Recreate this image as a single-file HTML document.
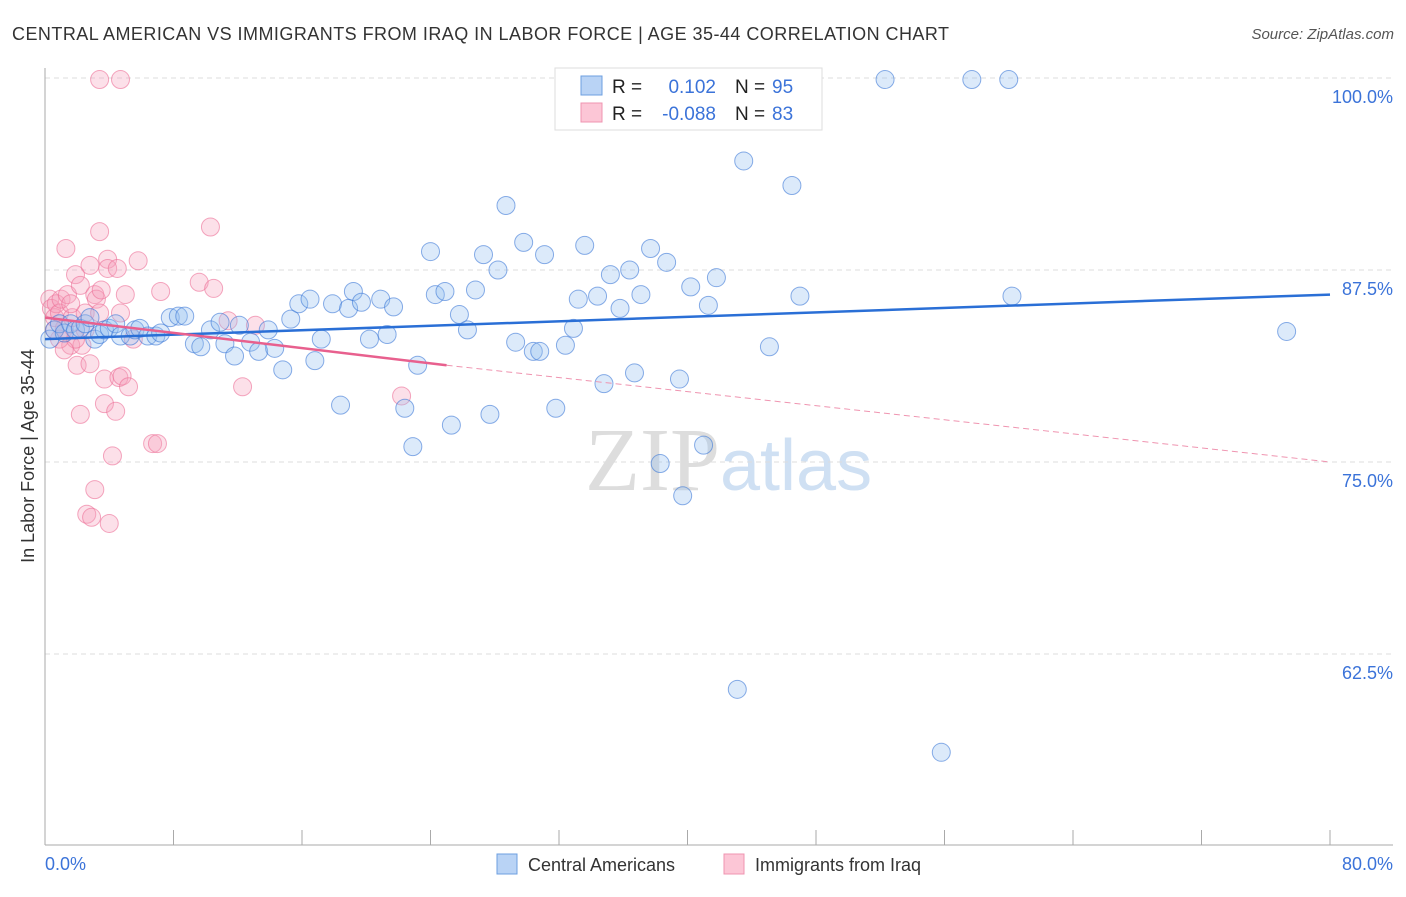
<!DOCTYPE html>
<html><head><meta charset="utf-8"><style>
body{margin:0;background:#fff;font-family:"Liberation Sans",sans-serif}
</style></head><body>
<svg width="1406" height="892" xmlns="http://www.w3.org/2000/svg" font-family="Liberation Sans, sans-serif">
<text x="12" y="40" font-size="18" fill="#333" textLength="937" lengthAdjust="spacing">CENTRAL AMERICAN VS IMMIGRANTS FROM IRAQ IN LABOR FORCE | AGE 35-44 CORRELATION CHART</text>
<text x="1394" y="39" font-size="15" fill="#555" font-style="italic" text-anchor="end">Source: ZipAtlas.com</text>
<text x="720" y="490" font-size="90" fill="#ddd" text-anchor="end" font-family="Liberation Serif, serif">ZIP</text>
<text x="720" y="490" font-size="72" fill="#cfe0f3">atlas</text>
<g id="grid"></g>
<g id="axes"></g>
<g id="pts"></g>
<g id="trend"></g>
<text transform="translate(34,456) rotate(-90)" font-size="18" fill="#333" text-anchor="middle">In Labor Force | Age 35-44</text>
<text x="45" y="870" font-size="18" fill="#3b73d9">0.0%</text>
<text x="1393" y="870" font-size="18" fill="#3b73d9" text-anchor="end">80.0%</text>
<g>
<rect x="555" y="68" width="267" height="62" fill="#fff" stroke="#ddd"/>
<rect x="581" y="76" width="21" height="19" fill="#b9d3f5" stroke="#6d9fe0"/>
<rect x="581" y="103" width="21" height="19" fill="#fcc6d6" stroke="#ef94b0"/>
<text x="612" y="93" font-size="19" fill="#222">R =</text><text x="716" y="93" font-size="19" fill="#3b73d9" text-anchor="end">0.102</text>
<text x="735" y="93" font-size="19" fill="#222">N =</text><text x="772" y="93" font-size="19" fill="#3b73d9">95</text>
<text x="612" y="120" font-size="19" fill="#222">R =</text><text x="716" y="120" font-size="19" fill="#3b73d9" text-anchor="end">-0.088</text>
<text x="735" y="120" font-size="19" fill="#222">N =</text><text x="772" y="120" font-size="19" fill="#3b73d9">83</text>
</g>
<g>
<rect x="497" y="854" width="20" height="20" fill="#b9d3f5" stroke="#6d9fe0"/>
<text x="528" y="871" font-size="18" fill="#333">Central Americans</text>
<rect x="724" y="854" width="20" height="20" fill="#fcc6d6" stroke="#ef94b0"/>
<text x="755" y="871" font-size="18" fill="#333">Immigrants from Iraq</text>
</g>
</svg>
<script>
const yTicks=[100,87.5,75,62.5];
const yTickLabels=["100.0%","87.5%","75.0%","62.5%"];
const blueX=[0.3,0.6,0.9,1.2,1.6,1.9,2.2,2.5,2.8,3.1,3.4,3.7,4.0,4.4,4.7,5.3,5.6,5.9,6.4,6.9,7.2,7.8,8.3,8.7,9.3,9.7,10.3,10.9,11.2,11.8,12.1,12.8,13.3,13.9,14.3,14.8,15.3,15.8,16.5,16.8,17.2,17.9,18.4,18.9,19.2,19.7,20.2,20.9,21.3,21.7,22.4,22.9,23.2,24.0,24.3,24.9,25.3,25.8,26.3,26.8,27.3,27.7,28.2,28.7,29.3,29.8,30.4,30.8,31.1,31.8,32.4,32.9,33.2,33.6,34.4,34.8,35.2,35.8,36.4,36.7,37.1,37.7,38.3,38.7,39.5,39.7,40.2,41.0,41.3,41.8,43.1,43.5,45.1,46.5,47.0,52.3,55.8,57.7,60.0,60.2,77.3];
const blueY=[83.0,83.6,84.0,83.4,84.0,83.6,83.7,84.0,84.4,83.0,83.3,83.6,83.7,84.0,83.2,83.2,83.6,83.7,83.2,83.2,83.4,84.4,84.5,84.5,82.7,82.5,83.6,84.1,82.7,81.9,83.9,82.8,82.2,83.6,82.4,81.0,84.3,85.3,85.6,81.6,83.0,85.3,78.7,85.0,86.1,85.4,83.0,85.6,83.3,85.1,78.5,76.0,81.3,88.7,85.9,86.1,77.4,84.6,83.6,86.2,88.5,78.1,87.5,91.7,82.8,89.3,82.2,82.2,88.5,78.5,82.6,83.7,85.6,89.1,85.8,80.1,87.2,85.0,87.5,80.8,85.9,88.9,74.9,88.0,80.4,72.8,86.4,76.1,85.2,87.0,60.2,94.6,82.5,93.0,85.8,99.9,56.1,99.9,99.9,85.8,83.5];
const pinkX=[0.3,0.4,0.6,0.7,0.9,1.0,1.2,1.4,1.6,1.7,1.9,2.0,2.2,2.3,2.5,2.6,2.8,2.9,3.1,3.2,3.4,3.5,3.7,3.7,3.9,3.9,4.0,4.2,4.4,4.5,4.6,4.7,4.8,5.0,5.2,5.5,5.8,6.7,7.0,7.2,9.6,10.3,10.5,11.4,12.3,13.1,22.2,3.4,4.7,1.3,3.1,2.2,2.8,0.9,0.6,1.6,2.5,1.9,3.4,1.2];
const pinkY=[85.6,85.0,84.4,85.3,84.7,85.6,83.7,85.9,82.6,84.4,87.2,81.3,86.5,82.6,84.7,71.6,87.8,71.4,85.9,85.6,90.0,86.2,80.4,78.8,88.2,87.6,71.0,75.4,78.3,87.6,80.5,84.7,80.6,85.9,79.9,83.0,88.1,76.2,76.2,86.1,86.7,90.3,86.3,84.2,79.9,83.9,79.3,99.9,99.9,88.9,73.2,78.1,81.4,83.0,83.6,85.3,83.6,83.0,84.7,82.3];
const NS="http://www.w3.org/2000/svg";
const X0=45,X1=1330,Y100=78,PXPER=192/12.5;
const sx=v=>X0+(v/80)*(X1-X0);
const sy=v=>Y100+(100-v)*PXPER;
function mk(tag,attrs,parent){const e=document.createElementNS(NS,tag);for(const k in attrs)e.setAttribute(k,attrs[k]);document.getElementById(parent).appendChild(e);return e;}
yTicks.forEach((t,i)=>{
  const l=mk('line',{x1:X0,x2:1393,y1:sy(t),y2:sy(t),stroke:'#ddd','stroke-dasharray':'5,4'},'grid');
  
  
  const tx=mk('text',{x:1393,y:sy(t)+25,'font-size':18,fill:'#3b73d9','text-anchor':'end'},'grid');
  tx.textContent=yTickLabels[i];
  
  
});
let a=mk('line',{x1:X0,x2:X0,y1:68,y2:845,stroke:'#aaa'},'axes');


a=mk('line',{x1:X0,x2:1393,y1:845,y2:845,stroke:'#aaa'},'axes');


for(let i=1;i<=10;i++){const t=mk('line',{x1:sx(i*8),x2:sx(i*8),y1:830,y2:845,stroke:'#aaa'},'axes');
  
  }
pinkX.forEach((x,i)=>{const c=mk('circle',{cx:sx(x),cy:sy(pinkY[i]),r:9,fill:'rgba(247,160,188,0.33)',stroke:'rgba(236,110,150,0.6)','stroke-width':1},'pts');
  
  });
blueX.forEach((x,i)=>{const c=mk('circle',{cx:sx(x),cy:sy(blueY[i]),r:9,fill:'rgba(150,190,240,0.33)',stroke:'rgba(60,120,215,0.6)','stroke-width':1},'pts');
  
  });
let t=mk('line',{x1:sx(0),y1:sy(83.0),x2:sx(80),y2:sy(85.9),stroke:'#2a6fd6','stroke-width':2.5},'trend');


t=mk('line',{x1:sx(0),y1:sy(84.4),x2:sx(25),y2:sy(81.3),stroke:'#e8608e','stroke-width':2.5},'trend');


t=mk('line',{x1:sx(25),y1:sy(81.3),x2:sx(80),y2:sy(75.0),stroke:'#ef94b0','stroke-width':1,'stroke-dasharray':'6,4'},'trend');


</script>
</body></html>
